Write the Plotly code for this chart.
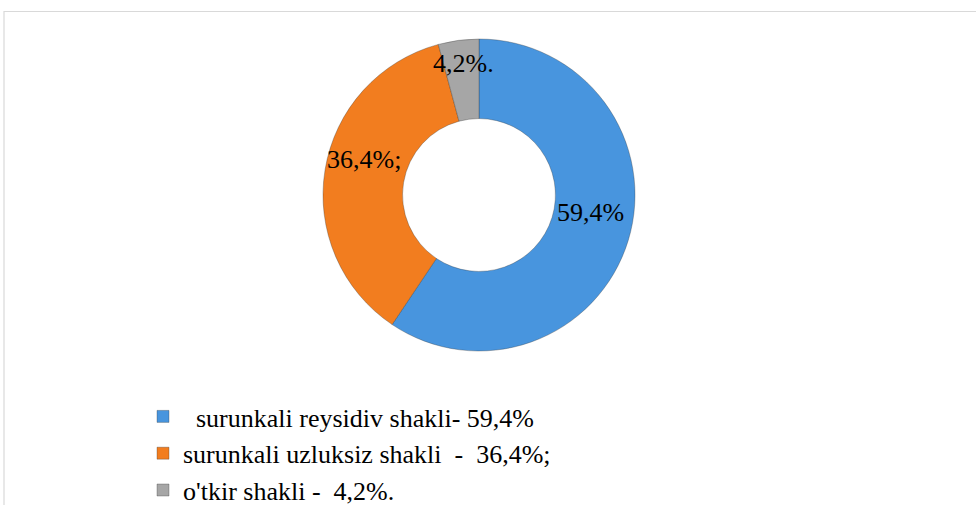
import math
import plotly.graph_objects as go

categories = ["\u00a0\u00a0surunkali reysidiv shakli- 59,4%",
              "surunkali uzluksiz shakli \u00a0-\u00a0 36,4%;",
              "o'tkir shakli - \u00a04,2%."]
values = [59.4, 36.4, 4.2]
slice_labels = ["59,4%", "36,4%;", "4,2%."]
colors = ["#4895de", "#f27d1f", "#a6a6a6"]

W, H = 976, 505
cx, cy, r = 479, 195, 156
HOLE = 0.49
SERIF = "Times New Roman, Liberation Serif, serif"

fig = go.Figure(go.Pie(
    labels=categories,
    values=values,
    textinfo="none",
    hole=HOLE,
    sort=False,
    direction="clockwise",
    rotation=0,
    marker=dict(colors=colors, line=dict(color="rgba(50,50,50,0.4)", width=0.8)),
    domain=dict(x=[(cx - r) / W, (cx + r) / W], y=[(H - cy - r) / H, (H - cy + r) / H]),
))

# data labels placed at each slice's mid-angle, middle of the ring
total = sum(values)
rho = r * (1 + HOLE) / 2
annotations = []
cum = 0.0
for v, lab in zip(values, slice_labels):
    theta = 2 * math.pi * (cum + v / 2) / total
    cum += v
    px = cx + rho * math.sin(theta)
    py = cy - rho * math.cos(theta)
    annotations.append(dict(
        x=px / W, y=1 - py / H, xref="paper", yref="paper",
        text=lab, showarrow=False, xanchor="center", yanchor="bottom",
        font=dict(family=SERIF, size=26, color="black"),
    ))

fig.update_layout(
    width=W, height=H,
    margin=dict(l=0, r=0, t=0, b=0, autoexpand=False),
    paper_bgcolor="white",
    annotations=annotations,
    legend=dict(
        x=143 / W, xanchor="left", y=1 - 393 / H, yanchor="top",
        font=dict(family=SERIF, size=26, color="black"),
        bgcolor="rgba(0,0,0,0)", itemwidth=30,
    ),
    shapes=[dict(type="rect", xref="paper", yref="paper",
                 x0=4 / W, x1=1.02, y0=-0.02, y1=1 - 11.5 / H,
                 line=dict(color="#d9d9d9", width=1.2))],
)

fig.write_html("out.html", config={"displayModeBar": False},
               post_script="document.body.style.margin='0';")
